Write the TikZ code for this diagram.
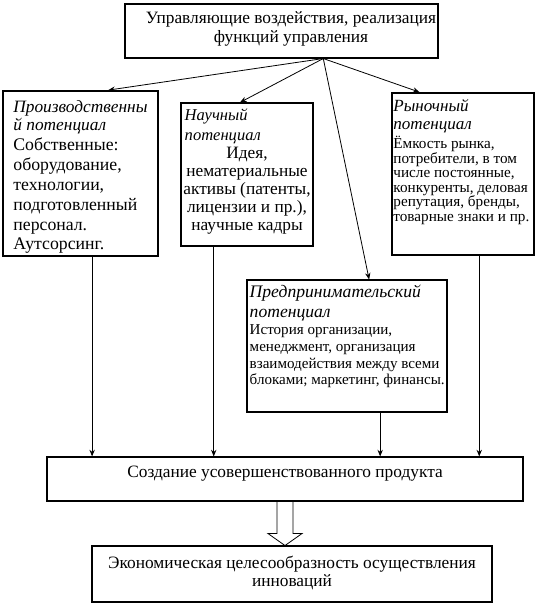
\documentclass[tikz,border=0pt]{standalone}
\usepackage{fontspec}
\setmainfont{Liberation Serif}
\usetikzlibrary{arrows.meta,calc}

\newcommand\boxtitle[2]{{\fontsize{#1}{#1}\selectfont\itshape #2}}
\lineskiplimit=-10pt

\begin{document}
\begin{tikzpicture}[x=0.75pt,y=-0.75pt,
  box/.style={draw,line width=0.8pt,inner sep=0pt},
  heavybox/.style={box,line width=1.3pt},
  txt/.style={inner sep=0pt},
  arr/.style={-{Stealth[length=5pt,width=4pt]},line width=0.6pt}]
\useasboundingbox (0,0) rectangle (539,605);

% boxes
\node[box,minimum width=313*0.75pt,minimum height=54*0.75pt] (top) at (281.5,31) {};
\node[heavybox,minimum width=155*0.75pt,minimum height=165*0.75pt] (prod) at (80.5,173.5) {};
\node[box,minimum width=132*0.75pt,minimum height=143*0.75pt] (nauch) at (247,174.5) {};
\node[heavybox,minimum width=142*0.75pt,minimum height=162*0.75pt] (rynok) at (463,174) {};
\node[box,minimum width=200*0.75pt,minimum height=132*0.75pt] (pred) at (347,346) {};
\node[box,minimum width=476*0.75pt,minimum height=44*0.75pt] (sozd) at (285,479) {};
\node[box,minimum width=400*0.75pt,minimum height=56*0.75pt] (econ) at (292,574) {};

% texts
\node[txt,align=center,font=\fontsize{13}{14.25}\selectfont] (top-t) at ($(top.center)+(9.5,-2.5)$)
  {Управляющие воздействия, реализация\\функций управления};
\node[txt,anchor=north west,align=left,font=\fontsize{13.3}{14.85}\selectfont] (prod-t)
  at ($(prod.north west)+(11,10.5)$)
  {\boxtitle{13}{Производственны}\\[-1.35pt]\boxtitle{13}{й потенциал}\\[0.15pt]Собственные:\\оборудование,\\технологии,\\подготовленный\\персонал.\\Аутсорсинг.};
\node[txt,anchor=north west,align=left,font=\fontsize{12.4}{15}\selectfont\itshape] (nauch-t)
  at ($(nauch.north west)+(4,6.5)$) {Научный\\потенциал};
\node[txt,anchor=north,align=center,font=\fontsize{13}{13.4}\selectfont] (nauch-b)
  at ($(nauch.north)+(0,44.5)$) {Идея,\\нематериальные\\активы (патенты,\\лицензии и пр.),\\научные кадры};
\node[txt,anchor=north west,align=left,font=\fontsize{11.4}{10.9}\selectfont] (rynok-t)
  at ($(rynok.north west)+(2,6.5)$)
  {\boxtitle{12.8}{Рыночный}\\[2.6pt]\boxtitle{12.8}{потенциал}\\[3.7pt]Ёмкость рынка,\\потребители, в том\\числе постоянные,\\конкуренты, деловая\\репутация, бренды,\\товарные знаки и пр.};
\node[txt,anchor=north west,align=left,font=\fontsize{11.3}{12.5}\selectfont] (pred-t)
  at ($(pred.north west)+(3,5)$)
  {\boxtitle{13.2}{Предпринимательский}\\[2.5pt]\boxtitle{13.2}{потенциал}\\[0.6pt]История организации,\\менеджмент, организация\\взаимодействия между всеми\\блоками; маркетинг, финансы.};
\node[txt,font=\fontsize{13}{14}\selectfont] (sozd-t) at ($(sozd.center)+(0,-5)$) {Создание усовершенствованного продукта};
\node[txt,align=center,font=\fontsize{13}{13.5}\selectfont] (econ-t) at ($(econ.center)+(0,-1.5)$)
  {Экономическая целесообразность осуществления\\инноваций};

% fan from the top box
\coordinate (fan) at ($(top.south west)!0.633!(top.south east)$);
\foreach \b/\f in {prod/0.677,nauch/0.447,pred/0.61,rynok/0.197}
  \draw[arr] (fan) -- ($(\b.north west)!\f!(\b.north east)$);

% down to the product
\foreach \b/\f in {prod/0.574,nauch/0.25,pred/0.665,rynok/0.613}{
  \coordinate (d) at ($(\b.south west)!\f!(\b.south east)$);
  \draw[arr] (d) -- (d |- sozd.north);
}

% hollow arrow
\draw[line width=0.6pt] (sozd.south) ++(-8,0) -- ++(0,32) -- ++(-9,0) -- ++(17,12) -- ++(17,-12) -- ++(-9,0) -- ++(0,-32);
\end{tikzpicture}
\end{document}
